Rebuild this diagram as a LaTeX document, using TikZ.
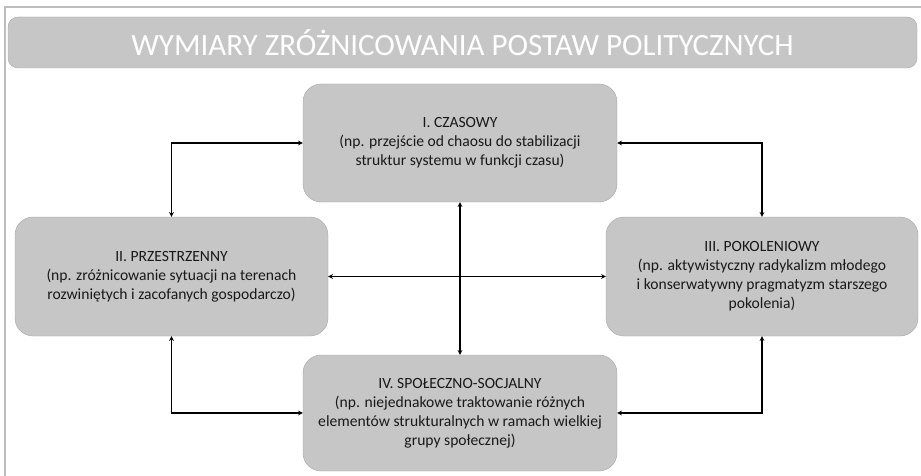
\documentclass[tikz,border=0pt]{standalone}
\usepackage{fontspec}
\setmainfont{Carlito}
\definecolor{boxgray}{HTML}{C6C6C6}
\definecolor{framegray}{HTML}{BDBDBD}
\begin{document}
\begin{tikzpicture}[>=stealth, x=1pt, y=-1pt,
    box/.style={rectangle, rounded corners=18pt, fill=boxgray, draw=black!35, text=black!90,
        align=center, minimum width=314pt, minimum height=118pt, inner sep=0pt,
        font=\fontsize{15.6}{19}\selectfont},
    link/.style={<->, line width=1.1pt}]
\useasboundingbox (0,0) rectangle (921,476);
% ramka
\coordinate (fr0) at (5,476);
\coordinate (fr1) at (5,7);
\coordinate (fr2) at (921,7);
\draw[framegray, line width=1.2pt] (fr0) -- (fr1) -- (fr2);
% tytul
\node[box, minimum width=909pt, minimum height=51pt, rounded corners=10pt, text=white,
    font=\fontsize{31}{36}\selectfont] (title) at (462.5,42.5) {WYMIARY ZRÓŻNICOWANIA POSTAW POLITYCZNYCH};
% wymiary
\node[box] (czas) at (460,143) {I. CZASOWY\\(np. przejście od chaosu do stabilizacji\\struktur systemu w funkcji czasu)};
\node[box, minimum width=313pt, minimum height=119pt] (przes) at (171.5,276.5) {II. PRZESTRZENNY\\(np. zróżnicowanie sytuacji na terenach\\rozwiniętych i zacofanych gospodarczo)};
\node[box, minimum width=312pt, minimum height=119pt] (pokol) at (762,276.5) {III. POKOLENIOWY\\(np. aktywistyczny radykalizm młodego\\i konserwatywny pragmatyzm starszego\\pokolenia)};
\node[box, minimum height=116pt] (spol) at (460,413) {IV. SPOŁECZNO-SOCJALNY\\(np. niejednakowe traktowanie różnych\\elementów strukturalnych w ramach wielkiej\\grupy społecznej)};
% polaczenia
\draw[link] (czas.west) -| (przes.north);
\draw[link] (czas.east) -| (pokol.north);
\draw[link] (przes.south) |- (spol.west);
\draw[link] (pokol.south) |- (spol.east);
\draw[link] (czas.south) -- (spol.north);
\draw[link] (przes.east) -- (pokol.west);
\end{tikzpicture}
\end{document}
